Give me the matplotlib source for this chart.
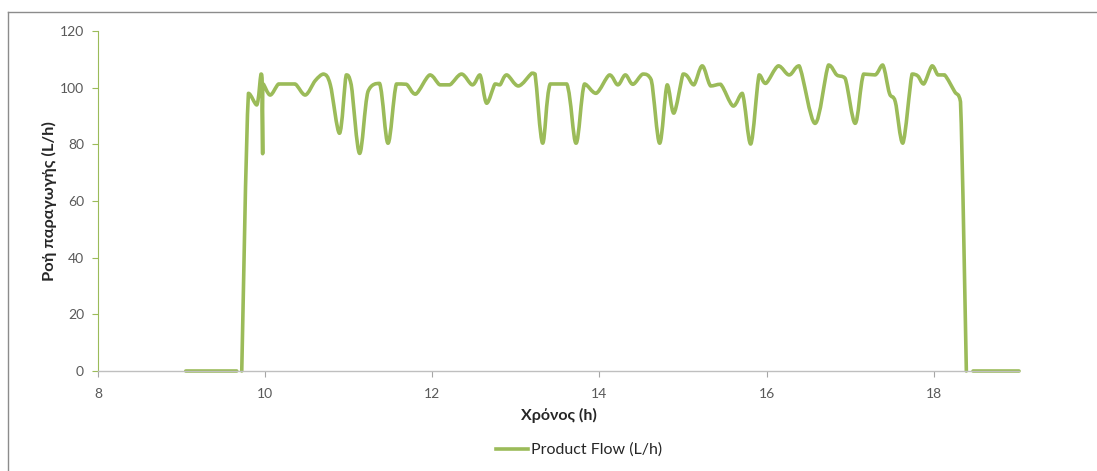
import numpy as np
import matplotlib
matplotlib.use("Agg")
import matplotlib.pyplot as plt
from matplotlib.path import Path
from matplotlib.patches import PathPatch
from matplotlib.lines import Line2D

plt.rcParams['font.family'] = ['Lato', 'DejaVu Sans']

# Product flow readings (time in hours, flow in L/h); NaN marks a break in the record
time_h = [9.05, 9.66, np.nan,
          9.72, 9.80, 9.90, 9.95, 9.965, 9.97, 9.975, 10.06, 10.16, 10.25, 10.36,
          10.48, 10.60, 10.70, 10.78, 10.89, 10.97, 11.03, 11.13, 11.23, 11.37,
          11.47, 11.57, 11.69, 11.80, 11.97, 12.09, 12.21, 12.35, 12.48, 12.57,
          12.65, 12.75, 12.81, 12.89, 13.03, 13.19, 13.23, 13.32, 13.41, 13.61,
          13.72, 13.82, 13.96, 14.12, 14.22, 14.31, 14.40, 14.52, 14.62, 14.72,
          14.81, 14.89, 15.00, 15.05, 15.13, 15.23, 15.33, 15.45, 15.60, 15.71,
          15.81, 15.91, 15.99, 16.14, 16.27, 16.39, 16.58, 16.74, 16.84, 16.94,
          17.06, 17.16, 17.30, 17.39, 17.47, 17.54, 17.63, 17.74, 17.81, 17.88,
          17.98, 18.05, 18.13, 18.25, 18.32, 18.39, np.nan,
          18.47, 19.02]
flow_lh = [0, 0, np.nan,
           0, 98.0, 93.9, 104.8, 101.0, 76.7, 101.3, 97.4, 101.3, 101.3, 101.3,
           97.4, 102.5, 104.8, 101.0, 83.9, 104.5, 101.0, 76.8, 98.6, 101.5,
           80.4, 101.3, 101.2, 97.7, 104.5, 101.0, 101.0, 104.8, 101.0, 104.5,
           94.5, 101.3, 101.0, 104.5, 100.6, 105.1, 104.8, 80.4, 101.3, 101.3,
           80.4, 101.3, 98.0, 104.5, 101.0, 104.5, 101.2, 104.8, 102.7, 80.4,
           101.0, 91.0, 104.8, 104.1, 101.0, 107.7, 100.6, 101.2, 93.5, 98.0,
           80.1, 104.5, 101.5, 107.7, 104.5, 107.7, 87.4, 108.0, 104.5, 103.3,
           87.4, 104.8, 104.5, 108.0, 98.0, 95.0, 80.4, 104.8, 104.1, 101.3,
           107.7, 104.5, 104.5, 98.6, 95.0, 0, np.nan,
           0, 0]

x_ticks = [8, 10, 12, 14, 16, 18]
y_ticks = [0, 20, 40, 60, 80, 100, 120]

LINE_COLOR = '#9BBB59'
TICK_COLOR = '#595959'


def smooth_path(xs, ys):
    """Smoothed line through the points, built from cubic Bezier segments
    whose control points stay within each segment's vertical range."""
    xs = np.asarray(xs, float)
    ys = np.asarray(ys, float)
    verts, codes = [], []
    idx = np.flatnonzero(~np.isnan(xs))
    runs = np.split(idx, np.flatnonzero(np.diff(idx) > 1) + 1)
    for run in runs:
        P = np.column_stack([xs[run], ys[run]])
        n = len(P)
        verts.append(P[0]); codes.append(Path.MOVETO)
        for i in range(n - 1):
            p0 = P[i - 1] if i > 0 else P[i]
            p1, p2 = P[i], P[i + 1]
            p3 = P[i + 2] if i + 2 < n else P[i + 1]
            c1 = p1 + (p2 - p0) / 6.0
            c2 = p2 - (p3 - p1) / 6.0
            lo, hi = min(p1[1], p2[1]), max(p1[1], p2[1])
            c1[1] = np.clip(c1[1], lo, hi)
            c2[1] = np.clip(c2[1], lo, hi)
            verts += [c1, c2, p2]
            codes += [Path.CURVE4] * 3
    return Path(np.array(verts), codes)


fig = plt.figure(figsize=(10.97, 4.71), dpi=100)
ax = fig.add_axes([98 / 1097, 1 - 371 / 471, (1019 - 98) / 1097, (371 - 31) / 471])

patch = PathPatch(smooth_path(time_h, flow_lh), facecolor='none',
                  edgecolor=LINE_COLOR, lw=2.6, capstyle='round', joinstyle='round',
                  transform=ax.transData, clip_on=False)
ax.add_patch(patch)

ax.set_xlim(8, 19.02)
ax.set_ylim(0, 120)
ax.set_xticks(x_ticks)
ax.set_yticks(y_ticks)
ax.tick_params(axis='both', labelsize=10, labelcolor=TICK_COLOR, length=4, width=0.8)
ax.tick_params(axis='x', color='#A6A6A6', pad=8)
ax.tick_params(axis='y', color=LINE_COLOR, pad=6)

for s in ('top', 'right'):
    ax.spines[s].set_visible(False)
ax.spines['left'].set_color(LINE_COLOR)
ax.spines['left'].set_linewidth(0.8)
ax.spines['bottom'].set_color('#BFBFBF')
ax.spines['bottom'].set_linewidth(1.0)

ax.set_xlabel('Χρόνος (h)', fontsize=11.5, fontweight='bold', color='#262626', labelpad=6)
ax.set_ylabel('Ροή παραγωγής (L/h)', fontsize=11.8, fontweight='bold', color='#262626', labelpad=2)

handle = Line2D([], [], color=LINE_COLOR, lw=2.6)
fig.legend([handle], ['Product Flow (L/h)'], loc='center', bbox_to_anchor=(579 / 1097, 1 - 450 / 471),
           frameon=False, fontsize=11.5, handlelength=2.0, handletextpad=0.15, labelcolor='#262626')

# chart-area border
fig.add_artist(Line2D([8 / 1097, 8 / 1097], [0, 1 - 12 / 471], transform=fig.transFigure,
                      color='#8C8C8C', lw=1.0))
fig.add_artist(Line2D([8 / 1097, 1], [1 - 12 / 471, 1 - 12 / 471], transform=fig.transFigure,
                      color='#8C8C8C', lw=1.0))

fig.savefig('out.png', dpi=100)
